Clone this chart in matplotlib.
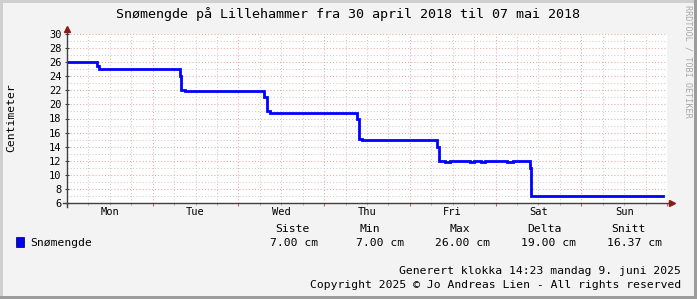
"""
Snømengde på Lillehammer - RRDtool-style weekly graph
"""

import matplotlib
matplotlib.use('Agg')
import matplotlib.pyplot as plt
from matplotlib.patches import Rectangle

W, H = 697, 299

# hours since Mon 30 april 00:00, snow depth in cm (step data)
hours = [0, 8.5, 8.9, 31.6, 32.0, 33.0, 55.2, 56.0, 56.8, 81.2, 81.8, 82.6,
         103.7, 104.2, 105.8, 107.2, 112.8, 114.0, 115.9, 117.0, 123.2, 124.9,
         129.5, 130.0, 166.9]
depth = [26, 25.5, 25, 24, 22, 21.85, 21, 19, 18.85, 18, 15.1, 14.9,
         14, 12, 11.85, 12, 11.85, 12, 11.85, 12, 11.85, 12,
         11, 7, 7]

days = ['Mon', 'Tue', 'Wed', 'Thu', 'Fri', 'Sat', 'Sun']
y_ticks = list(range(6, 31, 2))

stat_names = ['Siste', 'Min', 'Max', 'Delta', 'Snitt']
stat_values = ['7.00 cm', '7.00 cm', '26.00 cm', '19.00 cm', '16.37 cm']

MONO = 'DejaVu Sans Mono'
AXIS_COL = '#404040'
ARROW_COL = '#8B1A1A'
MGRID_COL = '#E8A8A8'
GRID_COL = '#CCCCCC'


def fx(x):
    return x / W


def fy(y):
    return 1 - y / H


fig = plt.figure(figsize=(W / 100, H / 100), dpi=100)
fig.patch.set_facecolor('#F3F3F3')

# frame shading
fig.patches.append(Rectangle((0, fy(2.5)), 1, 2.5 / H, transform=fig.transFigure,
                             facecolor='#CFCFCF', edgecolor='none'))
fig.patches.append(Rectangle((0, 0), 2.5 / W, 1, transform=fig.transFigure,
                             facecolor='#CFCFCF', edgecolor='none'))
fig.patches.append(Rectangle((fx(694), 0), 3 / W, 1, transform=fig.transFigure,
                             facecolor='#9C9C9C', edgecolor='none'))
fig.patches.append(Rectangle((0, 0), 1, 3 / H, transform=fig.transFigure,
                             facecolor='#9C9C9C', edgecolor='none'))

ax = fig.add_axes([fx(67), fy(203), 600 / W, 169 / H])
ax.set_facecolor('white')
ax.set_xlim(0, 168)
ax.set_ylim(6, 30)
for s in ax.spines.values():
    s.set_visible(False)

# grid
dots = (0, (1, 2))
for h in range(6, 168, 6):
    col = MGRID_COL if h % 24 == 0 else GRID_COL
    ax.axvline(h, color=col, lw=0.75, ls=dots, zorder=1)
for v in range(7, 31):
    col = MGRID_COL if v % 2 == 0 else GRID_COL
    ax.axhline(v, color=col, lw=0.75, ls=dots, zorder=1)

# data line
ax.step(hours, depth, where='post', color='#0000FF', lw=2.0, zorder=3,
        solid_joinstyle='miter')

# ticks
ax.set_yticks(y_ticks)
ax.set_yticklabels([str(v) for v in y_ticks], fontfamily=MONO, fontsize=7.5)
ax.tick_params(axis='y', direction='inout', length=3, width=0.8,
               color=AXIS_COL, pad=2.5)
ax.set_xticks(range(0, 169, 24))
ax.set_xticklabels([])
ax.set_xticks(range(6, 168, 6), minor=True)
ax.tick_params(axis='x', which='major', direction='out', length=2.5,
               width=0.8, color='#D06060')
ax.tick_params(axis='x', which='minor', direction='out', length=1.5,
               width=0.6, color='#A0A0A0')

for i, d in enumerate(days):
    ax.text(12 + 24 * i, -9 / 169, d, transform=ax.get_xaxis_transform(),
            ha='center', va='center', fontfamily=MONO, fontsize=7.5)

# axis lines with arrows
ax.plot([0, 0], [-4 / 169, 1 + 3 / 169], transform=ax.transAxes,
        color=AXIS_COL, lw=1, clip_on=False, zorder=4)
ax.plot([-4 / 600, 1 + 2 / 600], [0, 0], transform=ax.transAxes,
        color=AXIS_COL, lw=1, clip_on=False, zorder=4)
ax.plot(0, 1 + 5 / 169, transform=ax.transAxes, marker='^', ms=4.5,
        color=ARROW_COL, clip_on=False, zorder=5)
ax.plot(1 + 5 / 600, 0, transform=ax.transAxes, marker='>', ms=4.5,
        color=ARROW_COL, clip_on=False, zorder=5)

# texts
fig.text(fx(348.5), fy(14), 'Snømengde på Lillehammer fra 30 april 2018 til 07 mai 2018',
         ha='center', va='center', fontfamily=MONO, fontsize=9.6)
fig.text(fx(11), fy(118), 'Centimeter', rotation=90, ha='center', va='center',
         fontfamily=MONO, fontsize=8.2)
fig.text(fx(688), fy(5), 'RRDTOOL / TOBI OETIKER', rotation=-90, ha='center',
         va='top', fontfamily=MONO, fontsize=6.1, color='#A8A8A8')

# legend
fig.patches.append(Rectangle((fx(16), fy(247)), 8 / W, 10 / H,
                             transform=fig.transFigure, facecolor='#0000FF',
                             edgecolor='#000000', lw=0.5))
fig.text(fx(30), fy(242.5), 'Snømengde', ha='left', va='center',
         fontfamily=MONO, fontsize=8.2)

header_x = [292, 369.5, 460, 544, 628]
value_right = [318, 404, 490, 576, 662]
for name, hx in zip(stat_names, header_x):
    fig.text(fx(hx), fy(228.5), name, ha='center', va='center',
             fontfamily=MONO, fontsize=8.2)
for val, vx in zip(stat_values, value_right):
    fig.text(fx(vx), fy(242.5), val, ha='right', va='center',
             fontfamily=MONO, fontsize=8.2)

fig.text(fx(681), fy(271), 'Generert klokka 14:23 mandag 9. juni 2025',
         ha='right', va='center', fontfamily=MONO, fontsize=8.2)
fig.text(fx(681), fy(285), 'Copyright 2025 © Jo Andreas Lien - All rights reserved',
         ha='right', va='center', fontfamily=MONO, fontsize=8.2)

fig.savefig('out.png', dpi=100, facecolor=fig.get_facecolor())
plt.close(fig)
